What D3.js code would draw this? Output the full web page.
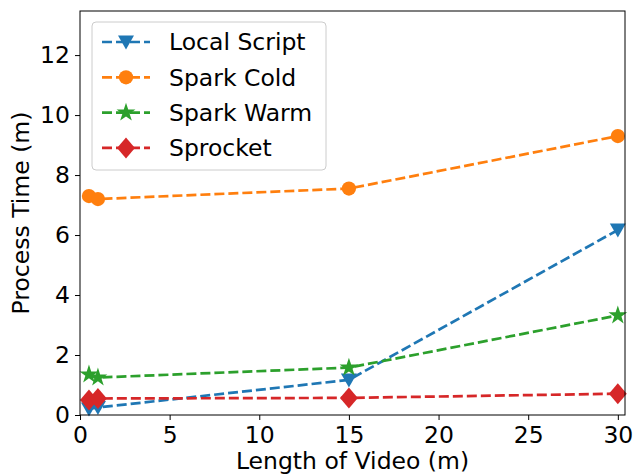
<!DOCTYPE html>
<html>
<head>
<meta charset="utf-8">
<script src="https://cdn.jsdelivr.net/npm/d3@7"></script>
<style>
  body { margin: 0; background: #fff; }
  text { font-family: "DejaVu Sans", sans-serif; }
</style>
</head>
<body>
<div id="chart"></div>
<script>
// data
var lengths = [0.5, 1, 15, 30];
var seriesNames = ["Local Script", "Spark Cold", "Spark Warm", "Sprocket"];
var localScript = [0.2, 0.25, 1.17, 6.17];
var sparkCold = [7.3, 7.2, 7.55, 9.3];
var sparkWarm = [1.35, 1.25, 1.58, 3.32];
var sprocket = [0.5, 0.55, 0.57, 0.71];
var xTicks = [0, 5, 10, 15, 20, 25, 30];
var yTicks = [0, 2, 4, 6, 8, 10, 12];

var colors = ["#1f77b4", "#ff7f0e", "#2ca02c", "#d62728"];
var symbols = ["triDown", "circle", "star", "diamond"];
var allSeries = [localScript, sparkCold, sparkWarm, sprocket];
var fontSize = "23.5px";

// setup canvas
var svg_width = 633;
var svg_height = 476;
var svg = d3.select("#chart").append("svg")
  .attr("width", svg_width)
  .attr("height", svg_height);
var margin = {top: 11, right: 8, bottom: 61, left: 80};
var chart_width = svg_width - margin.left - margin.right;
var chart_height = svg_height - margin.top - margin.bottom;

var chart_area = svg.append("g")
  .attr("transform", "translate(" + margin.left + "," + margin.top + ")");

var x = d3.scaleLinear().domain([0, 30.4]).range([0, chart_width]);
var y = d3.scaleLinear().domain([0, 13.47]).range([chart_height, 0]);

// marker path
function markerPath(kind) {
  if (kind === "triDown") {
    var s = 8;
    return "M" + (-s) + "," + (-s * 0.8) + "L" + s + "," + (-s * 0.8) + "L0," + (s * 0.95) + "Z";
  }
  if (kind === "circle") return d3.symbol().type(d3.symbolCircle).size(160)();
  if (kind === "star") return d3.symbol().type(d3.symbolStar).size(110)();
  var r = 10.5;
  return "M0," + (-r) + "L" + (r * 0.85) + ",0L0," + r + "L" + (-r * 0.85) + ",0Z";
}

var line = d3.line()
  .x(function(d, i) { return x(lengths[i]); })
  .y(function(d) { return y(d); });

var plot = chart_area.append("g");

allSeries.forEach(function(vals, k) {
  var g = plot.append("g");
  g.append("path")
    .datum(vals)
    .attr("fill", "none")
    .attr("stroke", colors[k])
    .attr("stroke-width", 2.7)
    .attr("stroke-dasharray", "10,4")
    .attr("d", line);
  g.selectAll("path.mk")
    .data(vals)
    .enter().append("path")
    .attr("class", "mk")
    .attr("transform", function(d, i) { return "translate(" + x(lengths[i]) + "," + y(d) + ")"; })
    .attr("fill", colors[k])
    .attr("d", markerPath(symbols[k]));
});

// x-axis
var xAxis = chart_area.append("g")
  .attr("transform", "translate(0," + chart_height + ")")
  .call(d3.axisBottom(x).tickValues(xTicks).tickSize(5).tickPadding(5).tickFormat(d3.format("d")));
xAxis.select(".domain").remove();
xAxis.selectAll("text").attr("font-size", fontSize).attr("fill", "#000").attr("dy", "0.75em");
xAxis.selectAll("line").attr("stroke", "#000").attr("stroke-width", 1);

// y-axis
var yAxis = chart_area.append("g")
  .call(d3.axisLeft(y).tickValues(yTicks).tickSize(5).tickPadding(5).tickFormat(d3.format("d")));
yAxis.select(".domain").remove();
yAxis.selectAll("text").attr("font-size", fontSize).attr("fill", "#000");
yAxis.selectAll("line").attr("stroke", "#000").attr("stroke-width", 1);

// frame
chart_area.append("rect")
  .attr("width", chart_width)
  .attr("height", chart_height)
  .attr("fill", "none")
  .attr("stroke", "#000")
  .attr("stroke-width", 1);

// labels
svg.append("text")
  .attr("x", margin.left + chart_width / 2)
  .attr("y", 469)
  .attr("text-anchor", "middle")
  .attr("font-size", fontSize)
  .text("Length of Video (m)");

svg.append("text")
  .attr("transform", "translate(29," + (margin.top + chart_height / 2) + ") rotate(-90)")
  .attr("text-anchor", "middle")
  .attr("font-size", fontSize)
  .text("Process Time (m)");

// legend
var legend = svg.append("g").attr("transform", "translate(92,22)");
legend.append("rect")
  .attr("width", 234)
  .attr("height", 148)
  .attr("rx", 4)
  .attr("fill", "#fff")
  .attr("fill-opacity", 0.8)
  .attr("stroke", "#ccc")
  .attr("stroke-width", 1);

var items = legend.selectAll("g.item")
  .data(seriesNames)
  .enter().append("g")
  .attr("class", "item")
  .attr("transform", function(d, i) { return "translate(0," + (20 + i * 35.3) + ")"; });

items.append("line")
  .attr("x1", 10).attr("x2", 58)
  .attr("stroke", function(d, i) { return colors[i]; })
  .attr("stroke-width", 2.7)
  .attr("stroke-dasharray", "10,4");
items.append("path")
  .attr("transform", "translate(34,0)")
  .attr("fill", function(d, i) { return colors[i]; })
  .attr("d", function(d, i) { return markerPath(symbols[i]); });
items.append("text")
  .attr("x", 77)
  .attr("dy", "0.35em")
  .attr("font-size", fontSize)
  .text(function(d) { return d; });
</script>
</body>
</html>
